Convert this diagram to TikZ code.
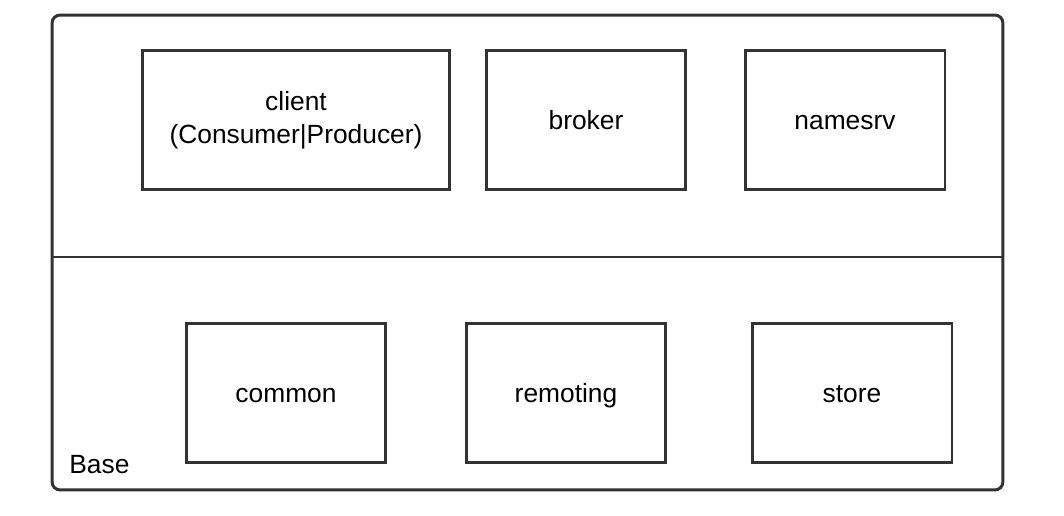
\documentclass[tikz,border=0pt]{standalone}
\usepackage{fontspec}
\setmainfont{Liberation Sans}
\usetikzlibrary{positioning}

\begin{document}
\begin{tikzpicture}[x = 0.02cm, y = -0.02cm]
\tikzstyle{ModuleStyle}=[shape = rectangle,
                         draw = black!80,
                         line width = 1.7pt,
                         minimum height = 2.8cm,
                         minimum width = 4cm,
                         inner sep = 0pt,
                         align = center,
                         text height = 13pt,
                         text depth = 2pt,
                         font = \fontsize{15}{19}\selectfont]
\useasboundingbox (0,0) rectangle (1064,516);
% outer frame
\node[draw = black!80, line width = 1.7pt, rounded corners = 0.16cm,
      minimum width = 19.02cm, minimum height = 9.5cm, inner sep = 0pt]
      (frame) at (527.5,252.5) {};
\draw[black!80, line width = 1.7pt] (frame.west |- 0,257) -- (frame.east |- 0,257);
% upper layer
\node[ModuleStyle, minimum width = 6.16cm, text height = {}, text depth = {}] (client) at (296,120) {client\\(Consumer|Producer)};
\node[ModuleStyle] (broker) at (586,120) {broker};
\node[ModuleStyle] (namesrv) at (845,120) {namesrv};
% base layer
\node[ModuleStyle] (common) at (286,393) {common};
\node[ModuleStyle] (remoting) at (566,393) {remoting};
\node[ModuleStyle] (store) at (852,393) {store};
\node[font = \fontsize{15}{19}\selectfont, anchor = west, inner sep = 0pt] (base) at (69,465) {Base};
\end{tikzpicture}
\end{document}
